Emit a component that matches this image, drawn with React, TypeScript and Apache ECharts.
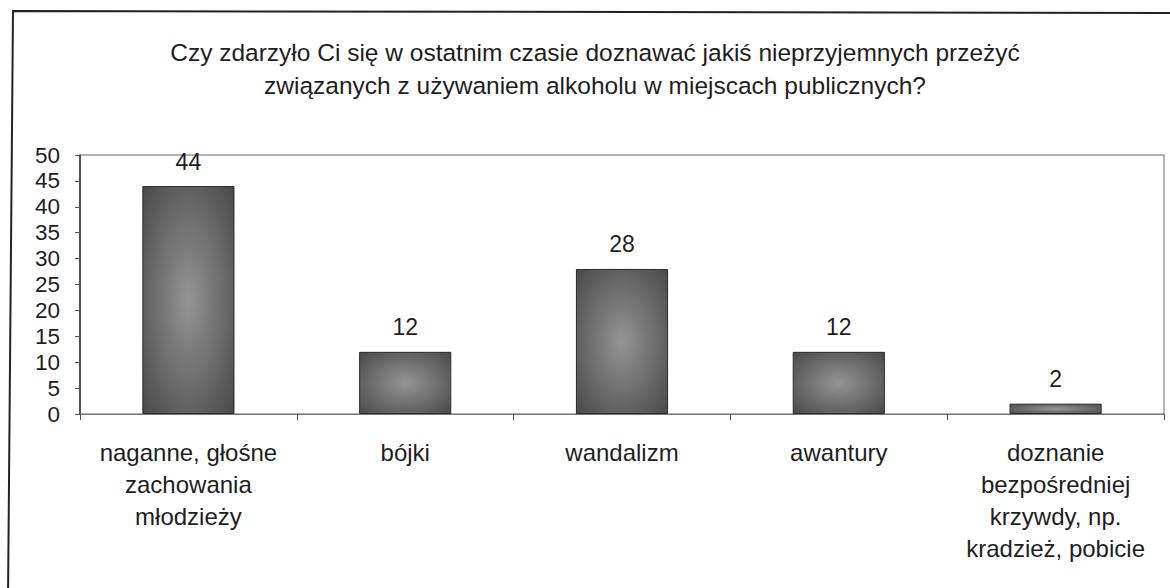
import React, { useEffect, useRef } from "react";
import * as echarts from "echarts";

const titleLines = [
  "Czy zdarzyło Ci się w ostatnim czasie doznawać jakiś nieprzyjemnych przeżyć",
  "związanych z używaniem alkoholu w miejscach publicznych?",
];
const categories = [
  "naganne, głośne\nzachowania\nmłodzieży",
  "bójki",
  "wandalizm",
  "awantury",
  "doznanie\nbezpośredniej\nkrzywdy, np.\nkradzież, pobicie",
];
const values = [44, 12, 28, 12, 2];
const yMin = 0;
const yMax = 50;
const yStep = 5;

const FONT = "'Liberation Sans', Arial, sans-serif";

export default function App() {
  const ref = useRef<HTMLDivElement>(null);
  useEffect(() => {
    document.body.style.margin = "0";
    const chart = echarts.init(ref.current!, null, { renderer: "svg" });
    chart.setOption({
      animation: false,
      backgroundColor: "#ffffff",
      title: {
        text: titleLines.join("\n"),
        left: 590,
        top: 31,
        textAlign: "center",
        textStyle: {
          fontFamily: FONT,
          fontSize: 24.5,
          fontWeight: "normal",
          color: "#1e1e1e",
          lineHeight: 33,
        },
      },
      graphic: [
        {
          type: "polyline",
          shape: { points: [[8, 600], [13, 11], [1175, 13]] },
          style: { fill: "none", stroke: "#222", lineWidth: 2 },
          z: -1,
        },
      ],
      grid: {
        left: 80,
        right: 6,
        top: 155,
        bottom: 174,
        show: true,
        borderColor: "#666",
        borderWidth: 1,
      },
      xAxis: {
        type: "category",
        data: categories,
        axisLine: { lineStyle: { color: "#777", width: 1 } },
        axisTick: { show: true, alignWithLabel: false, length: 6, lineStyle: { color: "#555" } },
        axisLabel: {
          fontFamily: FONT,
          fontSize: 24,
          color: "#1e1e1e",
          lineHeight: 32,
          margin: 22,
          interval: 0,
        },
        splitLine: { show: false },
      },
      yAxis: {
        type: "value",
        min: yMin,
        max: yMax,
        interval: yStep,
        axisLine: { show: true, lineStyle: { color: "#333", width: 1.5 } },
        axisTick: { show: true, length: 5, lineStyle: { color: "#555" } },
        axisLabel: {
          fontFamily: FONT,
          fontSize: 22.5,
          color: "#1e1e1e",
          margin: 20,
        },
        splitLine: { show: false },
      },
      series: [
        {
          type: "bar",
          data: values,
          barWidth: "42.5%",
          itemStyle: {
            color: {
              type: "radial",
              x: 0.5,
              y: 0.5,
              r: 0.7,
              colorStops: [
                { offset: 0, color: "#949494" },
                { offset: 1, color: "#4a4a4a" },
              ],
            },
            borderColor: "#2a2a2a",
            borderWidth: 1,
          },
          label: {
            show: true,
            position: "top",
            distance: 13,
            fontFamily: FONT,
            fontSize: 23,
            color: "#1e1e1e",
          },
        },
      ],
    });
    return () => chart.dispose();
  }, []);
  return <div ref={ref} style={{ width: 1170, height: 588 }} />;
}
